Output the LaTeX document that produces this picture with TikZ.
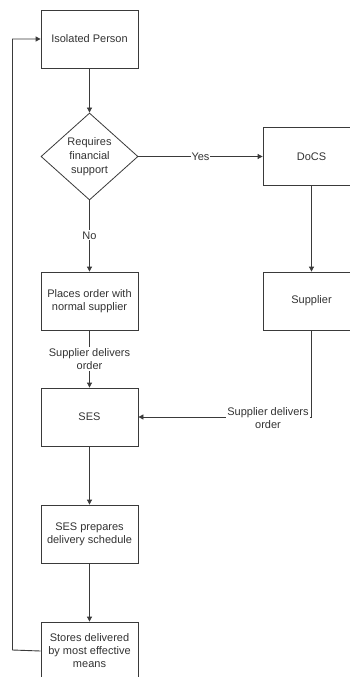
\documentclass[tikz,border=0pt]{standalone}
\usepackage{fontspec}
\setmainfont{Liberation Sans}
\usetikzlibrary{shapes.geometric,arrows.meta}
\definecolor{linec}{HTML}{3A3A3A}
\definecolor{textc}{HTML}{333333}
\begin{document}
\begin{tikzpicture}[x=1pt,y=-1pt,
  box/.style={draw=linec, line width=0.8pt, minimum width=97pt, minimum height=58pt, inner sep=0pt,
    align=center, text=textc, font=\fontsize{11}{13}\selectfont},
  lbl/.style={fill=white, inner sep=1pt, align=center, text=textc, font=\fontsize{11}{13}\selectfont},
  conn/.style={draw=linec, line width=0.8pt},
  arr/.style={conn, -{Triangle[length=5pt,width=5pt]}}]
\useasboundingbox (0,0) rectangle (350,677);
\clip (0,0) rectangle (350,677);
\fill[white] (0,0) rectangle (350,677);
\node[box] (iso) at (89.5,39) {Isolated Person};
\node[diamond, draw=linec, line width=0.8pt, minimum width=97pt, minimum height=87pt, inner sep=0pt] (dia) at (89.5,156.5) {};
\node[align=center, text=textc, font=\fontsize{11}{14.3}\selectfont] (diat) at (dia) {Requires\\financial\\support};
\node[box] (docs) at (311.5,156.5) {DoCS};
\node[box] (sup) at (311.5,301) {Supplier};
\node[box] (pl) at (89.5,301) {Places order with\\normal supplier};
\node[box] (ses) at (89.5,417) {SES};
\node[box] (prep) at (89.5,534) {SES prepares\\delivery schedule};
\node[box] (st) at (89.5,651) {Stores delivered\\by most effective\\means};
\coordinate (fb) at (12.5,650);
\draw[arr] (iso) -- (dia);
\draw[arr] (dia.east) -- node[lbl, pos=0.5] (yes) {Yes} (docs.west);
\draw[arr] (dia.south) -- node[lbl, pos=0.49] (no) {No} (pl.north);
\draw[arr] (docs) -- (sup);
\draw[arr] (pl.south) -- node[lbl, pos=0.5] (sd1) {Supplier delivers\\order} (ses.north);
\draw[arr] (sup.south) |- (ses.east);
\node[lbl] (sd2) at (268,418) {Supplier delivers\\order};
\draw[arr] (ses) -- (prep);
\draw[arr] (prep) -- (st);
\draw[arr, line width=0.9pt] (st.west) -- (fb) |- (iso.west);
\end{tikzpicture}
\end{document}
